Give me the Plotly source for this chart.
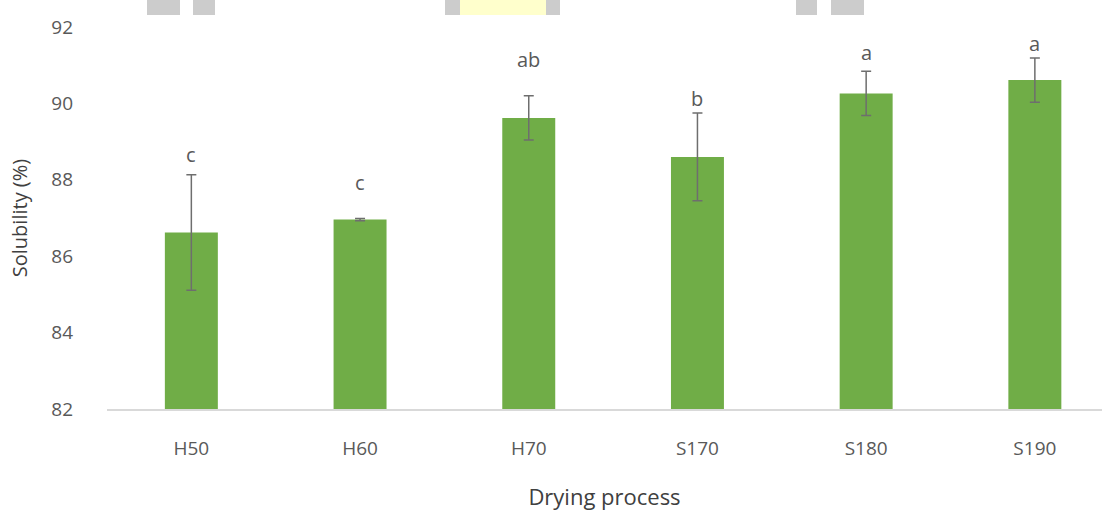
import plotly.graph_objects as go

# Drying treatments and their solubility results
categories = ["H50", "H60", "H70", "S170", "S180", "S190"]
solubility = [86.62, 86.96, 89.62, 88.60, 90.26, 90.61]
std_dev = [1.51, 0.03, 0.58, 1.15, 0.58, 0.58]
group_letters = ["c", "c", "ab", "b", "a", "a"]
letter_y = [88.67, 87.94, 91.14, 90.13, 91.32, 91.58]
y_ticks = [82, 84, 86, 88, 90, 92]

TEXT = "#595959"
FONT = "Open Sans"

fig = go.Figure()
fig.add_trace(go.Bar(
    x=categories,
    y=solubility,
    width=0.314,
    marker=dict(color="#70AD47", line=dict(width=0)),
    error_y=dict(type="data", array=std_dev, visible=True,
                 color="#6e6e6e", thickness=1.5, width=5),
    showlegend=False,
))

for cat, lab, ly in zip(categories, group_letters, letter_y):
    fig.add_annotation(x=cat, y=ly, text=lab, showarrow=False,
                       xanchor="center", yanchor="middle",
                       font=dict(family=FONT, size=20, color=TEXT))

# header fragments along the top edge of the page
header_blocks = [
    (147, 180, "#cccccc"), (193, 215, "#cccccc"),
    (445, 460, "#cccccc"), (460, 546, "#ffffcc"), (546, 560, "#cccccc"),
    (796, 817, "#cccccc"), (831, 864, "#cccccc"),
]
W, H = 1102, 511
for x0, x1, col in header_blocks:
    fig.add_shape(type="rect", xref="paper", yref="paper",
                  x0=(x0 - 107) / (W - 107), x1=(x1 - 107) / (W - 107),
                  y0=1 + (27 - 15) / (409 - 27), y1=1 + 27 / (409 - 27),
                  fillcolor=col, line=dict(width=0), layer="below")

fig.update_layout(
    width=W, height=H,
    margin=dict(l=107, r=0, t=27, b=102),
    plot_bgcolor="white", paper_bgcolor="white",
    font=dict(family=FONT, size=20, color=TEXT),
    xaxis=dict(
        type="category", range=[-0.5, 5.398],
        showline=True, linecolor="#d9d9d9", linewidth=1.5,
        showgrid=False, zeroline=False,
        ticks="", ticklabelstandoff=21,
        tickfont=dict(family=FONT, size=19, color=TEXT),
        title=dict(text="Drying process", standoff=30,
                   font=dict(family=FONT, size=22, color="#404040")),
    ),
    yaxis=dict(
        range=[82, 92], tickvals=y_ticks,
        showline=False, showgrid=False, zeroline=False,
        ticks="", ticklabelstandoff=33,
        tickfont=dict(family=FONT, size=19, color=TEXT),
        title=dict(text="Solubility (%)", standoff=18,
                   font=dict(family=FONT, size=20, color="#404040")),
    ),
)

fig.write_html("out.html")
